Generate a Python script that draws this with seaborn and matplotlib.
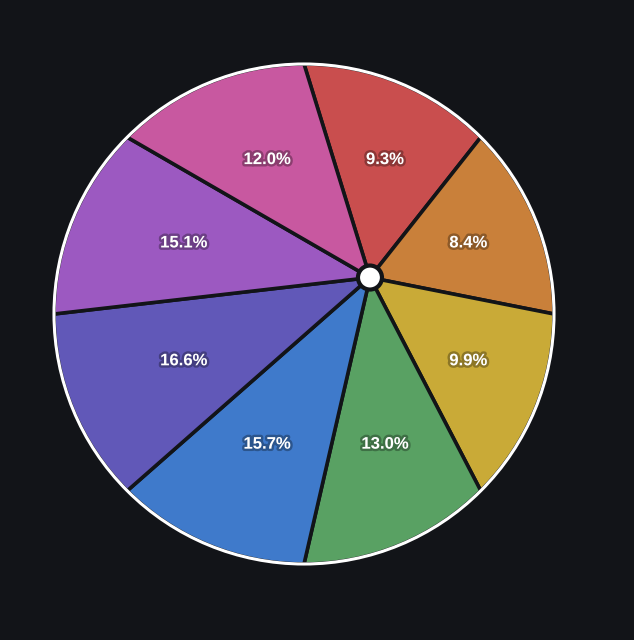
import matplotlib

matplotlib.use("Agg")

import matplotlib.patheffects as pe
import matplotlib.pyplot as plt
import numpy as np
import seaborn as sns
from matplotlib.patches import Circle, Polygon


# slices clockwise from 12 o'clock
shares = [9.3, 8.4, 9.9, 13.0, 15.7, 16.6, 15.1, 12.0]
slice_colors = ["#c94e4e", "#c9803a", "#c9aa37", "#59a163", "#3f7acb",
                "#6158b8", "#9c59c1", "#c858a0"]

BG = "#121418"
RADIUS = 250
HUB_DAMP = 0.89

sns.set_theme(style="dark")
plt.rcParams["font.family"] = ["Liberation Sans", "DejaVu Sans"]

fracs = np.array(shares) / sum(shares)
n = len(fracs)
step = 2 * np.pi / n
# boundary angles on the rim (math convention, clockwise from top)
edges = np.pi / 2 - step * np.arange(n + 1)
mids = (edges[:-1] + edges[1:]) / 2
normals = np.column_stack([np.cos(mids), np.sin(mids)])

# place the hub so each wedge's area roughly follows its share
total = np.pi * RADIUS ** 2
half_chord = RADIUS * np.sin(step / 2)
targets = total * (1 / n - fracs) / half_chord
hub, *_ = np.linalg.lstsq(normals, targets, rcond=None)
hub = hub * HUB_DAMP
label_center = hub / 3

fig = plt.figure(figsize=(6.34, 6.4), dpi=100, facecolor=BG)
ax = fig.add_axes([0, 0, 1, 1])
ax.set_facecolor(BG)
ax.set_xlim(-304, 330)
ax.set_ylim(-326, 314)
ax.set_aspect("equal")
ax.axis("off")

palette = sns.color_palette(slice_colors)
for i in range(n):
    t = np.linspace(edges[i], edges[i + 1], 60)
    rim = np.column_stack([RADIUS * np.cos(t), RADIUS * np.sin(t)])
    pts = np.vstack([hub, rim])
    ax.add_patch(Polygon(pts, closed=True, facecolor=palette[i],
                         edgecolor=BG, linewidth=2.6, joinstyle="round", zorder=2))

    lx = label_center[0] + 154 * np.cos(mids[i])
    ly = label_center[1] + 154 * np.sin(mids[i])
    ax.text(lx, ly, f"{shares[i]:.1f}%", color="white", fontsize=12,
            fontweight="bold", ha="center", va="center", zorder=5,
            path_effects=[pe.withStroke(linewidth=3.5, foreground="black", alpha=0.3)])

ax.add_patch(Circle((0, 0), RADIUS, facecolor="none", edgecolor="white",
                    linewidth=2.2, zorder=3))
ax.add_patch(Circle(hub, 12, facecolor="white", edgecolor=BG,
                    linewidth=3, zorder=4))

fig.savefig("out.png", dpi=100, facecolor=BG)
